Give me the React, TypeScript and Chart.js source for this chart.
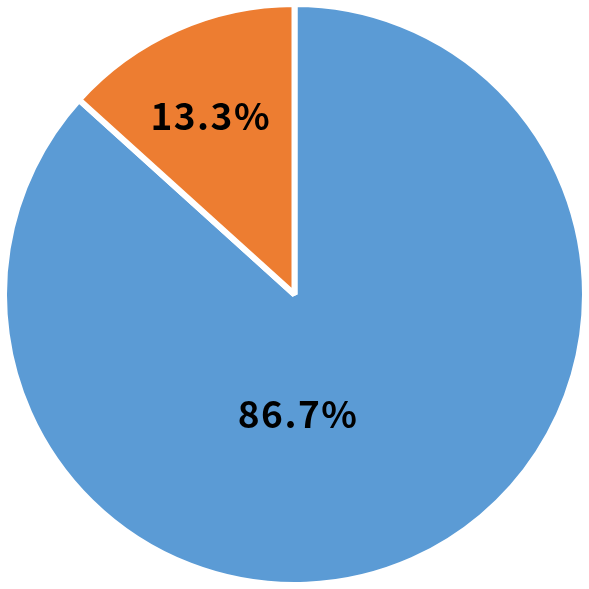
import React, { useEffect, useRef } from "react";
import { Chart, registerables } from "chart.js";

Chart.register(...registerables);

const categories = ["A", "B"];
const values = [86.7, 13.3];
const labelTexts = ["86.7%", "13.3%"];
const colors = ["#5B9BD5", "#ED7D31"];

export default function App() {
  const ref = useRef<HTMLCanvasElement>(null);
  useEffect(() => {
    document.body.style.margin = "0";
    const labelPlugin = {
      id: "sliceLabels",
      afterDatasetsDraw(chart: any) {
        const ctx = chart.ctx;
        const meta = chart.getDatasetMeta(0);
        ctx.save();
        ctx.fillStyle = "#000";
        ctx.font = "600 37px 'Noto Sans CJK JP', sans-serif";
        (ctx as any).letterSpacing = "1.5px";
        ctx.textAlign = "center";
        ctx.textBaseline = "middle";
        meta.data.forEach((arc: any, i: number) => {
          const { x, y, outerRadius, startAngle, endAngle } = arc.getProps(
            ["x", "y", "outerRadius", "startAngle", "endAngle"],
            true
          );
          let ang = (startAngle + endAngle) / 2 - 0.02;
          let frac = 0.68;
          if (i === 0) {
            ang = Math.PI / 2 - 0.03;
            frac = 0.41;
          }
          const lx = x + Math.cos(ang) * outerRadius * frac;
          const ly = y + Math.sin(ang) * outerRadius * frac;
          ctx.fillText(labelTexts[i], lx, ly);
        });
        ctx.restore();
      },
    };
    const chart = new Chart(ref.current!, {
      type: "pie",
      data: {
        labels: categories,
        datasets: [
          {
            data: values,
            backgroundColor: colors,
            borderColor: "#ffffff",
            borderWidth: 6,
          },
        ],
      },
      options: {
        animation: false,
        responsive: false,
        maintainAspectRatio: false,
        layout: { padding: 1 },
        plugins: {
          legend: { display: false },
          tooltip: { enabled: false },
        },
      },
      plugins: [labelPlugin],
    });
    return () => chart.destroy();
  }, []);
  return (
    <div style={{ width: 589, height: 589, background: "#fff" }}>
      <canvas ref={ref} width={589} height={589} style={{ display: "block" }} />
    </div>
  );
}
